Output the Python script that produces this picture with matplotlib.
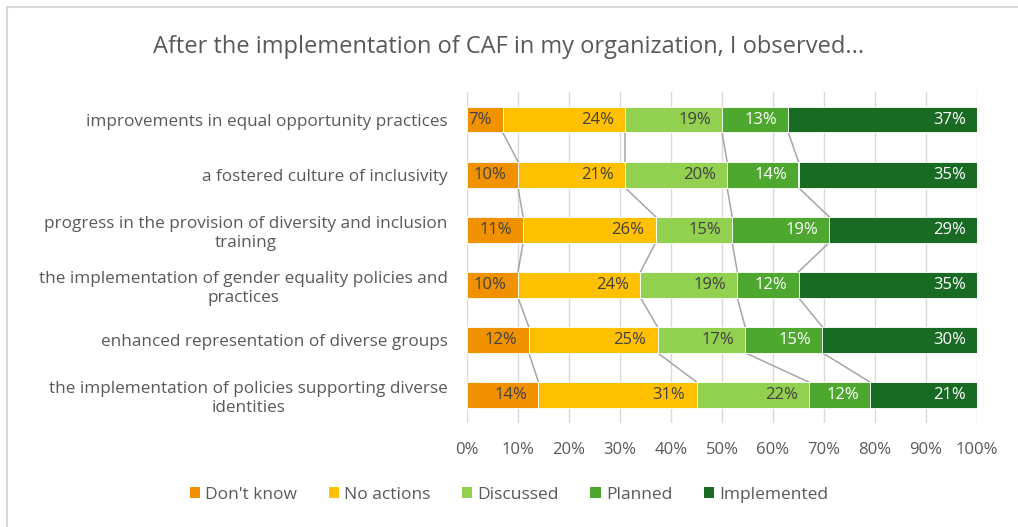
import numpy as np
import matplotlib
matplotlib.use("Agg")
import matplotlib.pyplot as plt
from matplotlib.patches import Rectangle

plt.rcParams['font.family'] = ['Open Sans', 'DejaVu Sans']

title = "After the implementation of CAF in my organization, I observed..."
categories = [
    "improvements in equal opportunity practices",
    "a fostered culture of inclusivity",
    "progress in the provision of diversity and inclusion\ntraining",
    "the implementation of gender equality policies and\npractices",
    "enhanced representation of diverse groups",
    "the implementation of policies supporting diverse\nidentities",
]
series_names = ["Don't know", "No actions", "Discussed", "Planned", "Implemented"]
dont_know   = [7, 10, 11, 10, 12, 14]
no_actions  = [24, 21, 26, 24, 25, 31]
discussed   = [19, 20, 15, 19, 17, 22]
planned     = [13, 14, 19, 12, 15, 12]
implemented = [37, 35, 29, 35, 30, 21]
x_ticks = [0, 10, 20, 30, 40, 50, 60, 70, 80, 90, 100]

colors = ["#F09100", "#FFC000", "#92D050", "#4EA72E", "#196B24"]
label_colors = ["#404040", "#404040", "#404040", "#FFFFFF", "#FFFFFF"]
text_gray = "#595959"

values = np.array([dont_know, no_actions, discussed, planned, implemented], dtype=float).T
totals = values.sum(axis=1, keepdims=True)
shares = values / totals * 100.0
ends = np.cumsum(shares, axis=1)
starts = ends - shares

W, H = 1018, 527
fig = plt.figure(figsize=(W / 100, H / 100), dpi=100)
fig.patch.set_facecolor("white")

# chart frame
fig.patches.append(Rectangle((7 / W, -0.1), 1.2, (H - 7) / H + 0.1, transform=fig.transFigure,
                             fill=False, edgecolor="#D9D9D9", linewidth=1.5))

ax_left, ax_right = 467, 977
ax_top, ax_bottom = 92, 422.5
ax = fig.add_axes([ax_left / W, 1 - ax_bottom / H, (ax_right - ax_left) / W, (ax_bottom - ax_top) / H])
y = np.arange(len(categories))
bar_h = 0.47

for s in range(len(series_names)):
    ax.barh(y, shares[:, s], left=starts[:, s], height=bar_h, color=colors[s],
            edgecolor="white", linewidth=0.6, label=series_names[s], zorder=3)
    for i in range(len(categories)):
        ax.annotate(f"{int(values[i, s])}%", (ends[i, s], y[i]), xytext=(-8, 0),
                    textcoords="offset points", ha="right", va="center",
                    fontsize=12, color=label_colors[s], zorder=4)

# series lines between consecutive bars
for k in range(len(series_names) - 1):
    for i in range(len(categories) - 1):
        ax.plot([ends[i, k], ends[i + 1, k]], [y[i] + bar_h / 2, y[i + 1] - bar_h / 2],
                color="#A6A6A6", linewidth=1.1, zorder=2)

ax.set_xlim(0, 100)
ax.set_ylim(len(categories) - 0.5, -0.5)
ax.set_xticks(x_ticks)
ax.set_xticklabels([f"{t}%" for t in x_ticks], fontsize=12, color=text_gray)
ax.set_yticks(y)
ax.set_yticklabels(categories, fontsize=12.3, color=text_gray, multialignment="center",
                   linespacing=1.25)
ax.tick_params(axis="both", length=0)
ax.tick_params(axis="x", pad=14)
ax.tick_params(axis="y", pad=14)
ax.grid(axis="x", color="#D9D9D9", linewidth=1, zorder=0)
ax.set_axisbelow(True)
for sp in ax.spines.values():
    sp.set_visible(False)

fig.text(0.5, 1 - 47 / H, title, ha="center", va="center", fontsize=17, color=text_gray)

handles = [Rectangle((0, 0), 1, 1, facecolor=c) for c in colors]
fig.legend(handles, series_names, loc="center", bbox_to_anchor=(0.5, 1 - 495 / H), ncol=5,
           frameon=False, fontsize=12.5, handlelength=0.6, handleheight=0.6,
           handletextpad=0.3, columnspacing=1.8, labelcolor=text_gray)

fig.savefig("out.png", dpi=100, facecolor="white")
